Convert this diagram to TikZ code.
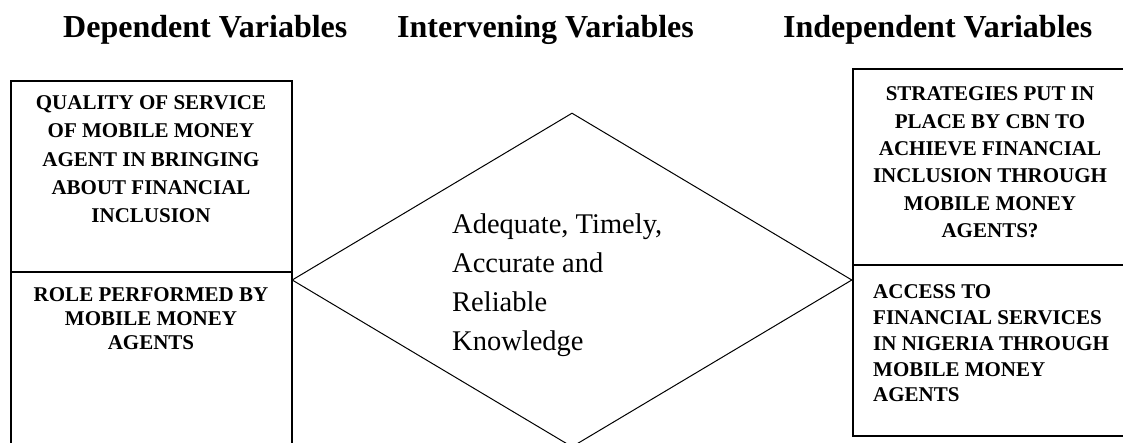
\documentclass[tikz,border=0pt]{standalone}
\usepackage{fontspec}
\setmainfont{Liberation Serif}
\usetikzlibrary{shapes.geometric}
\begin{document}
\begin{tikzpicture}[x=1pt,y=-1pt,
  box/.style={draw, line width=1.5pt, inner sep=0pt, anchor=north west},
  boxtext/.style={font=\fontsize{21}{#1}\selectfont\bfseries, inner sep=0pt, anchor=north},
  head/.style={font=\fontsize{32}{34}\selectfont\bfseries, inner sep=0pt, anchor=base west},
  diam/.style={draw, diamond, line width=1pt, inner sep=0pt},
  diamtext/.style={font=\fontsize{28.5}{38.7}\selectfont, align=left, inner sep=0pt, anchor=north west}
]
\useasboundingbox (0,0) rectangle (1123,442);
\clip (0,0) rectangle (1123,442);
% headers
\node[head] (h1) at (63,37) {Dependent Variables};
\node[head] (h2) at (397,37) {Intervening Variables};
\node[head] (h3) at (783,37) {Independent Variables};
% diamond
\node[diam, minimum width=560pt, minimum height=334pt] (d) at (572,280) {};
\node[diamtext] (dt) at (452,214) {Adequate, Timely,\\Accurate and\\Reliable\\Knowledge};
% left boxes
\node[box, minimum width=281pt, minimum height=191pt] (lt) at (10,80) {};
\node[box, minimum width=281pt, minimum height=200pt] (lb) at (10,271) {};
\node[boxtext=28.2, align=center] (ltt) at (151,95.5) {QUALITY OF SERVICE\\OF MOBILE MONEY\\AGENT IN BRINGING\\ABOUT FINANCIAL\\INCLUSION};
\node[boxtext=24, align=center] (lbt) at (151,287.5) {ROLE PERFORMED BY\\MOBILE MONEY\\AGENTS};
% right boxes
\node[box, minimum width=276pt, minimum height=196pt] (rt) at (852,68) {};
\node[box, minimum width=276pt, minimum height=171pt] (rb) at (852,264) {};
\node[boxtext=27.4, align=center] (rtt) at (990,86.5) {STRATEGIES PUT IN\\PLACE BY CBN TO\\ACHIEVE FINANCIAL\\INCLUSION THROUGH\\MOBILE MONEY\\AGENTS?};
\node[boxtext=25.8, align=left, anchor=north west] (rbt) at (873,284.5) {ACCESS TO\\FINANCIAL SERVICES\\IN NIGERIA THROUGH\\MOBILE MONEY\\AGENTS};
\end{tikzpicture}
\end{document}
